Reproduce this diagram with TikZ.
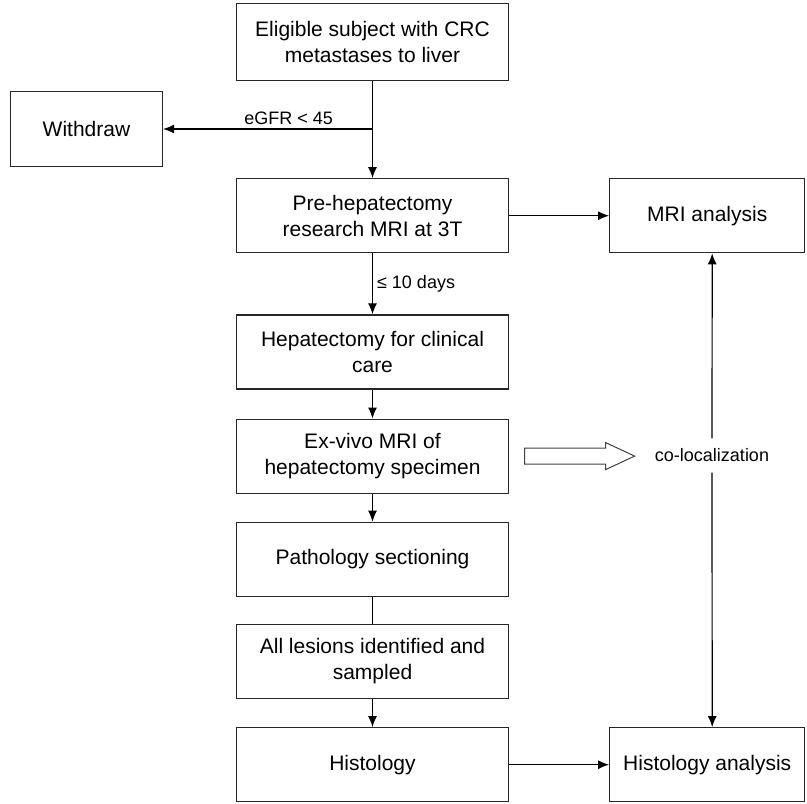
\documentclass[tikz,border=0pt]{standalone}
\usepackage{fontspec}
\setmainfont{Liberation Sans}
\usetikzlibrary{positioning, arrows.meta, shapes.arrows}

\begin{document}
\begin{tikzpicture}[x=0.5pt, y=-0.5pt,
        box/.style = {draw, black!85, text=black, line width=0.6pt, align=center, minimum width=136pt, minimum height=37pt, font=\fontsize{10.5}{13}\selectfont},%
        sidebox/.style = {box, minimum width=97.5pt},%
        arrow/.style = {-{Latex[length=5.5pt, width=4.5pt]}, line width=0.6pt},%
        note/.style = {font=\fontsize{9}{11}\selectfont, inner sep=2pt},%
        hollow/.style = {single arrow, draw, black!75, line width=0.5pt, inner xsep=0pt, inner ysep=3.75pt, single arrow head extend=2.75pt, single arrow tip angle=50, minimum height=55pt}%
    ]
        \useasboundingbox (0,0) rectangle (807,803);

        \node[box, minimum height=38.5pt] (eligible) at (372.5,42) {Eligible subject with CRC \\ metastases to liver};
        \node[box, minimum width=76pt, minimum height=37.5pt] (withdraw) at (86.5,129) {Withdraw};
        \node[box, below=48.5pt of eligible] (premri) {Pre-hepatectomy \\ research MRI at 3T};
        \node[box, below=30.5pt of premri] (hepatectomy) {Hepatectomy for clinical \\ care};
        \node[box, below=14.5pt of hepatectomy] (exvivo) {Ex-vivo MRI of \\ hepatectomy specimen};
        \node[box, below=14pt of exvivo] (pathology) {Pathology sectioning};
        \node[box, below=13.5pt of pathology] (lesions) {All lesions identified and \\ sampled};
        \node[box, below=14pt of lesions] (histology) {Histology};

        \node[sidebox, right=50pt of premri] (mrianalysis) {MRI analysis};
        \node[sidebox, right=50pt of histology] (histanalysis) {Histology analysis};

        \node[hollow, right=7.5pt of exvivo] (colocarrow) {};
        \node[note, inner ysep=5pt] (coloc) at (712,455.5) {co-localization};

        \draw[arrow] (eligible) -- (premri);
        \draw[arrow] (eligible.south |- withdraw.east) -- (withdraw.east) node[note, pos=0.4, above] {eGFR < 45};
        \draw[arrow] (premri) -- (hepatectomy) node[note, midway, right] {≤ 10 days};
        \draw[arrow] (hepatectomy) -- (exvivo);
        \draw[arrow] (exvivo) -- (pathology);
        \draw[line width=0.6pt] (pathology) -- (lesions);
        \draw[arrow] (lesions) -- (histology);

        \draw[arrow] (premri) -- (mrianalysis);
        \draw[arrow] (histology) -- (histanalysis);
        \draw[arrow] (coloc) -- ([xshift=2.5pt]mrianalysis.south);
        \draw[arrow] (coloc) -- ([xshift=2.5pt]histanalysis.north);
    \end{tikzpicture}
\end{document}
